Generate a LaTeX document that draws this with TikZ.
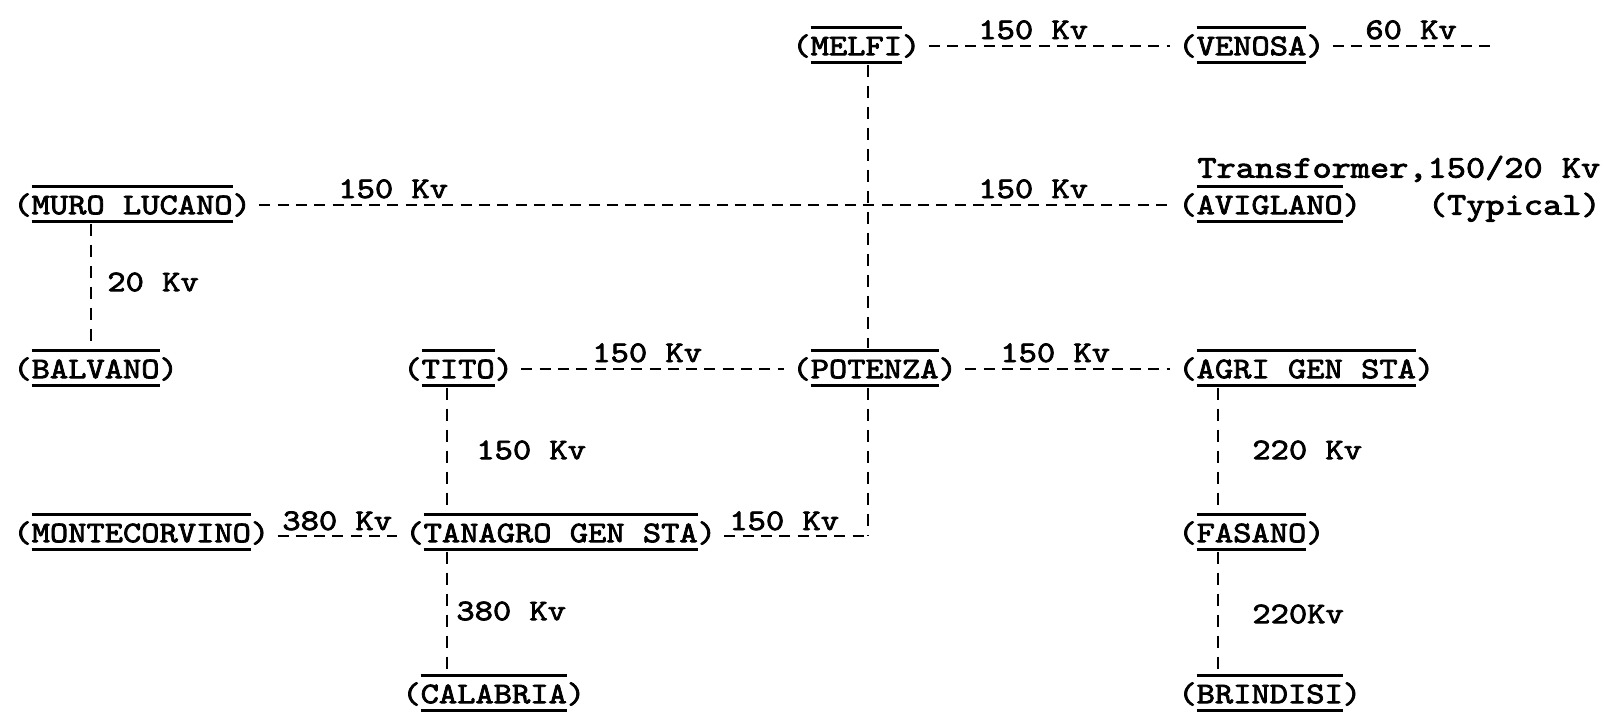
\documentclass[tikz,border=0pt]{standalone}
\usepackage{fontspec}
\newfontfamily\cour{lmmono10-regular.otf}[FakeStretch=1.16,FakeBold=2.5]
\newsavebox\stnbox
\newcommand\stnm[1]{\sbox\stnbox{#1}\rlap{\raisebox{\dimexpr\ht\stnbox+4pt\relax}{\rule{\wd\stnbox}{1.2pt}}}\rlap{\raisebox{-4.2pt}{\rule{\wd\stnbox}{1.2pt}}}\usebox\stnbox}
\tikzset{
  station/.style={inner sep=0pt, anchor=west, text height=9.2pt, text depth=0pt, font=\cour\fontsize{15pt}{18pt}\selectfont},
  note/.style={inner sep=0pt, anchor=west, text height=9.6pt, text depth=0pt, font=\cour\fontsize{15.75pt}{18pt}\selectfont},
  lbl/.style={inner sep=0pt, anchor=base west, font=\cour\fontsize{15pt}{18pt}\selectfont},
  vlbl/.style={inner sep=0pt, anchor=west, text height=9.2pt, text depth=0pt, font=\cour\fontsize{15pt}{18pt}\selectfont},
  hline/.style={line width=1.3pt, dash pattern=on 5.5pt off 3.65pt, shorten <=4pt, shorten >=4pt},
  vline/.style={line width=1.3pt, dash pattern=on 6pt off 4.5pt, shorten <=4.5pt, shorten >=5.5pt},
}
\begin{document}
\begin{tikzpicture}[x=0.5pt,y=-0.5pt]
\useasboundingbox (0,0) rectangle (1606,714);
% stations
\node[station] (melfi)    at (792,46)   {(\stnm{MELFI})};
\node[station] (venosa)   at (1178,46)  {(\stnm{VENOSA})};
\node[station] (muro)     at (13,205)   {(\stnm{MURO LUCANO})};
\node[station] (avig)     at (1178,205) {(\stnm{AVIGLANO})};
\node[station] (balvano)  at (13,369)   {(\stnm{BALVANO})};
\node[station] (tito)     at (403,369)  {(\stnm{TITO})};
\node[station] (potenza)  at (792,369)  {(\stnm{POTENZA})};
\node[station] (agri)     at (1178,369) {(\stnm{AGRI GEN STA})};
\node[station] (monte)    at (13,533)   {(\stnm{MONTECORVINO})};
\node[station] (tanagro)  at (405,533)  {(\stnm{TANAGRO GEN STA})};
\node[station] (fasano)   at (1178,533) {(\stnm{FASANO})};
\node[station] (calabria) at (402,694)  {(\stnm{CALABRIA})};
\node[station] (brindisi) at (1178,694) {(\stnm{BRINDISI})};
% transformer note
\node[note] (trnote) at (1197,168) {Transformer,150/20 Kv};
\node[note, anchor=east] (typ) at (1601,205) {(Typical)};
% vertical line x positions
\coordinate (xm) at (868,0);
\coordinate (xb) at (91,0);
\coordinate (xt) at (447,0);
\coordinate (xa) at (1218,0);
\coordinate (vend) at (1497,46);
\coordinate (pj) at (868,536);
% horizontal connectors
\draw[hline] (melfi.east) -- (venosa.west);
\draw[hline, shorten >=0pt] (venosa.east) -- (vend);
\draw[hline] (muro.east) -- (avig.west);
\draw[hline] (tito.east) -- (potenza.west);
\draw[hline] (potenza.east) -- (agri.west);
\draw[hline] ([yshift=-1.5pt]monte.east) -- ([yshift=-1.5pt]tanagro.west);
\draw[hline, shorten >=0pt] ([yshift=-1.5pt]tanagro.east) -- (pj);
% vertical connectors
\draw[vline] (melfi.south -| xm) -- (potenza.north -| xm);
\draw[vline, shorten >=0pt] (potenza.south -| xm) -- (pj);
\draw[vline] (muro.south -| xb) -- (balvano.north -| xb);
\draw[vline] (tito.south -| xt) -- (tanagro.north -| xt);
\draw[vline] (tanagro.south -| xt) -- (calabria.north -| xt);
\draw[vline] (agri.south -| xa) -- (fasano.north -| xa);
\draw[vline] (fasano.south -| xa) -- (brindisi.north -| xa);
% line labels
\node[lbl] (l1) at (978,39)  {150 Kv};
\node[lbl] (l2) at (1365,39) {60 Kv};
\node[lbl] (l3) at (338,198) {150 Kv};
\node[lbl] (l4) at (978,198) {150 Kv};
\node[lbl] (l5) at (592,362) {150 Kv};
\node[lbl] (l6) at (1000,362) {150 Kv};
\node[lbl] (l7) at (282,530) {380 Kv};
\node[lbl] (l8) at (729,530) {150 Kv};
\node[vlbl] (l9)  at (107,282)  {20 Kv};
\node[vlbl] (l10) at (476,450)  {150 Kv};
\node[vlbl] (l11) at (1252,450) {220 Kv};
\node[vlbl] (l12) at (456,611)  {380 Kv};
\node[vlbl] (l13) at (1252,614) {220Kv};
\end{tikzpicture}
\end{document}
